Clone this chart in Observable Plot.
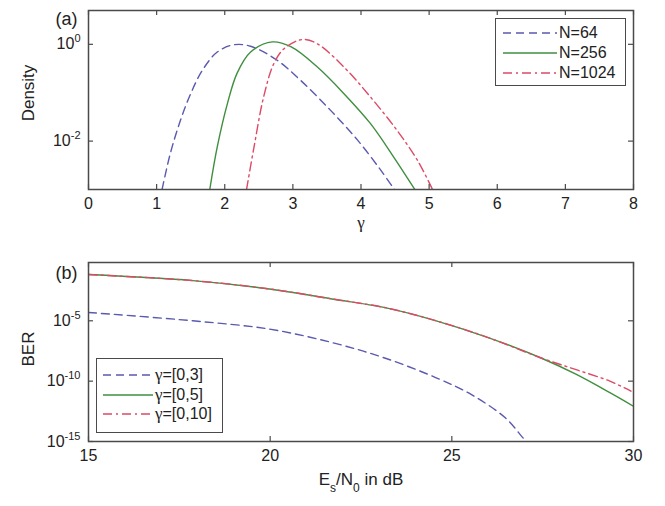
<!DOCTYPE html>
<html><head><meta charset="utf-8">
<script src="https://cdn.jsdelivr.net/npm/d3@7"></script>
<script src="https://cdn.jsdelivr.net/npm/@observablehq/plot@0.6"></script>
<style>
body{margin:0;background:#fff;font-family:"Liberation Sans",Arial,sans-serif;}
#wrap{position:relative;width:665px;height:506px;overflow:hidden;}
#wrap svg.plt{position:absolute;left:0;}
.legend{position:absolute;border:1.5px solid #4a4a4a;background:#fff;box-sizing:border-box;font:16px "Liberation Sans",Arial,sans-serif;color:#222;}
.legend .row{position:absolute;left:0;height:20px;display:flex;align-items:center;white-space:nowrap;}
.legend .row svg{display:block;}
.legend .g{font-family:"Liberation Serif","Times New Roman",serif;font-size:17px;}
</style></head><body><div id="wrap"></div>
<script>
// ---------- data: panel (a) ----------
const panelA = "(a)";
const xLabelA = "γ";
const yLabelA = "Density";
const xTicksA = [0, 1, 2, 3, 4, 5, 6, 7, 8];
const yTicksA = [1, 0.01];
const seriesA = ["N=64", "N=256", "N=1024"];
const gammaN64 = [1.08, 1.2, 1.35, 1.5, 1.67, 1.89, 2.13, 2.38, 2.77, 3.11, 3.55, 3.95, 4.29, 4.49];
const logN64   = [-3.0, -2.26, -1.57, -1.02, -0.54, -0.16, -0.01, -0.04, -0.33, -0.74, -1.36, -1.98, -2.6, -3.0];
const gammaN256 = [1.78, 1.89, 2.04, 2.18, 2.38, 2.7, 2.97, 3.36, 3.75, 4.14, 4.48, 4.79];
const logN256   = [-3.0, -2.12, -1.22, -0.6, -0.16, 0.05, -0.05, -0.47, -1.02, -1.64, -2.33, -3.0];
const gammaN1024 = [2.32, 2.43, 2.57, 2.72, 2.87, 3.14, 3.36, 3.75, 4.14, 4.53, 4.83, 5.05];
const logN1024   = [-3.0, -2.12, -1.09, -0.4, -0.09, 0.1, 0.01, -0.47, -1.09, -1.78, -2.4, -3.0];

// ---------- data: panel (b) ----------
const panelB = "(b)";
const xLabelB = "E_s/N_0 in dB";
const yLabelB = "BER";
const xTicksB = [15, 20, 25, 30];
const yTicksB = [1e-5, 1e-10, 1e-15];
const seriesB = ["γ=[0,3]", "γ=[0,5]", "γ=[0,10]"];
const snr03 = [15, 17.87, 19.98, 21.7, 23.13, 24.57, 25.53, 26.48, 26.96, 27.06];
const logBer03 = [-4.31, -5.0, -5.69, -6.8, -8.06, -9.72, -11.1, -13.06, -14.7, -15.0];
const snr05 = [15, 17.87, 19.98, 21.7, 23.13, 24.57, 26.0, 27.44, 28.4, 29.35, 30];
const logBer05 = [-1.17, -1.67, -2.36, -3.19, -3.89, -5.0, -6.39, -8.06, -9.4, -10.95, -12.08];
const snr010 = [15, 17.87, 19.98, 21.7, 23.13, 24.57, 26.0, 27.44, 28.4, 29.35, 29.93];
const logBer010 = [-1.17, -1.67, -2.36, -3.19, -3.89, -5.0, -6.39, -8.06, -9.03, -10.0, -10.83];

// ---------- styles ----------
const colors = ["#5a5ab0", "#3f8f3f", "#dc4a66"];
const dashes = ["8,5", null, "9,4,2,4"];
const FRAME = "#4a4a4a", TXT = "#222";
const W = 665;

function toRows(xs, logs) { return xs.map((x, i) => ({x, y: Math.pow(10, logs[i])})); }
const dataA = [toRows(gammaN64, logN64), toRows(gammaN256, logN256), toRows(gammaN1024, logN1024)];
const dataB = [toRows(snr03, logBer03), toRows(snr05, logBer05), toRows(snr010, logBer010)];

function panel({H, top, mt, mb, ml, mr, xDomain, yDomain, xTicks, yTicks, data, xLab, xLabFont, yLab, tag, xLabDy, yLabDy, tagDy}) {
  const innerH = H - mt - mb, innerW = W - ml - mr, tk = 5;
  const supFmt = d => "10^" + Math.round(Math.log10(d));
  const marks = [
    ...data.map((rows, i) => Plot.line(rows, {x: "x", y: "y", curve: "catmull-rom", stroke: colors[i], strokeWidth: 1.4, strokeDasharray: dashes[i], clip: true})),
    Plot.frame({stroke: FRAME, strokeWidth: 1.5}),
    Plot.tickX(xTicks, {x: d => d, insetTop: innerH - tk, stroke: FRAME, strokeWidth: 1.2}),
    Plot.tickX(xTicks, {x: d => d, insetBottom: innerH - tk, stroke: FRAME, strokeWidth: 1.2}),
    Plot.tickY(yTicks, {y: d => d, insetRight: innerW - tk, stroke: FRAME, strokeWidth: 1.2}),
    Plot.tickY(yTicks, {y: d => d, insetLeft: innerW - tk, stroke: FRAME, strokeWidth: 1.2}),
    Plot.axisX(xTicks, {tickSize: 0, tickPadding: 8, fontSize: 16, fill: TXT, label: null}),
    Plot.axisY(yTicks, {tickSize: 0, tickPadding: 8, fontSize: 16, fill: TXT, label: null, tickFormat: supFmt}),
    Plot.text([xLab], {text: d => d, frameAnchor: "bottom", dy: xLabDy, fontSize: 17, fontFamily: xLabFont, fill: TXT}),
    Plot.text([yLab], {text: d => d, frameAnchor: "left", textAnchor: "middle", dx: -60, dy: yLabDy, rotate: -90, fontSize: 17, fill: TXT}),
    Plot.text([tag], {text: d => d, frameAnchor: "top-left", textAnchor: "middle", dx: -22, dy: tagDy, fontSize: 18, fill: TXT})
  ];
  const svg = Plot.plot({
    width: W, height: H, marginTop: mt, marginBottom: mb, marginLeft: ml, marginRight: mr,
    style: {fontFamily: '"Liberation Sans", Arial, sans-serif', fontSize: "16px", background: "transparent", overflow: "visible"},
    x: {domain: xDomain},
    y: {type: "log", domain: yDomain},
    marks
  });
  svg.classList.add("plt");
  svg.style.top = top + "px";
  const NS = "http://www.w3.org/2000/svg";
  svg.querySelectorAll("text").forEach(t => {
    const s = t.textContent;
    if (/^10\^-?\d+$/.test(s)) {
      const [b, e] = s.split("^");
      t.textContent = "";
      t.style.fontSize = "16px";
      const a = document.createElementNS(NS, "tspan");
      a.textContent = b;
      const p = document.createElementNS(NS, "tspan");
      p.textContent = e; p.setAttribute("dy", "-7"); p.style.fontSize = "11px";
      t.append(a, p);
    } else if (/^\d+$/.test(s)) {
      t.style.fontSize = "16px";
    } else if (s.includes("_")) {
      const parts = s.split(/(_.)/);
      t.textContent = "";
      let down = false;
      parts.forEach(part => {
        if (!part) return;
        const sp = document.createElementNS(NS, "tspan");
        if (part.startsWith("_")) {
          sp.textContent = part.slice(1); sp.setAttribute("dy", "7"); sp.style.fontSize = "12px"; down = true;
        } else {
          sp.textContent = part; if (down) { sp.setAttribute("dy", "-7"); down = false; }
        }
        t.append(sp);
      });
    }
  });
  return svg;
}

function legend({left, top, w, h, rowsY, lineX0, lineX1, names}) {
  const box = document.createElement("div");
  box.className = "legend";
  Object.assign(box.style, {left: left + "px", top: top + "px", width: w + "px", height: h + "px"});
  names.forEach((n, i) => {
    const row = document.createElement("div");
    row.className = "row";
    row.style.top = (rowsY[i] - 10) + "px";
    row.style.left = lineX0 + "px";
    const lw = lineX1 - lineX0;
    const label = n.replace("γ", '<span class="g">γ</span>');
    row.innerHTML = `<svg width="${lw}" height="20"><line x1="0" x2="${lw}" y1="10" y2="10" stroke="${colors[i]}" stroke-width="1.4" ${dashes[i] ? `stroke-dasharray="${dashes[i]}"` : ""}/></svg><span style="margin-left:2px">${label}</span>`;
    box.appendChild(row);
  });
  return box;
}

const wrap = document.getElementById("wrap");
wrap.appendChild(panel({H: 250, top: 0, mt: 10, mb: 61, ml: 88, mr: 32, xDomain: [0, 8], yDomain: [1e-3, 5],
  xTicks: xTicksA, yTicks: yTicksA, data: dataA, xLab: xLabelA, xLabFont: '"Liberation Serif", serif', yLab: yLabelA, tag: panelA, xLabDy: 38, yLabDy: -7, tagDy: 2}));
wrap.appendChild(panel({H: 256, top: 250, mt: 12, mb: 65, ml: 88, mr: 32, xDomain: [15, 30], yDomain: [1e-15, 10 ** -0.17],
  xTicks: xTicksB, yTicks: yTicksB, data: dataB, xLab: xLabelB, yLab: yLabelB, tag: panelB, xLabDy: 43, yLabDy: -3, tagDy: 4}));
wrap.appendChild(legend({left: 495, top: 18, w: 131, h: 68, rowsY: [14, 34, 54], lineX0: 7, lineX1: 61, names: seriesA}));
wrap.appendChild(legend({left: 96, top: 358, w: 127, h: 75, rowsY: [16, 36, 55], lineX0: 6, lineX1: 56, names: seriesB}));
</script></body></html>
